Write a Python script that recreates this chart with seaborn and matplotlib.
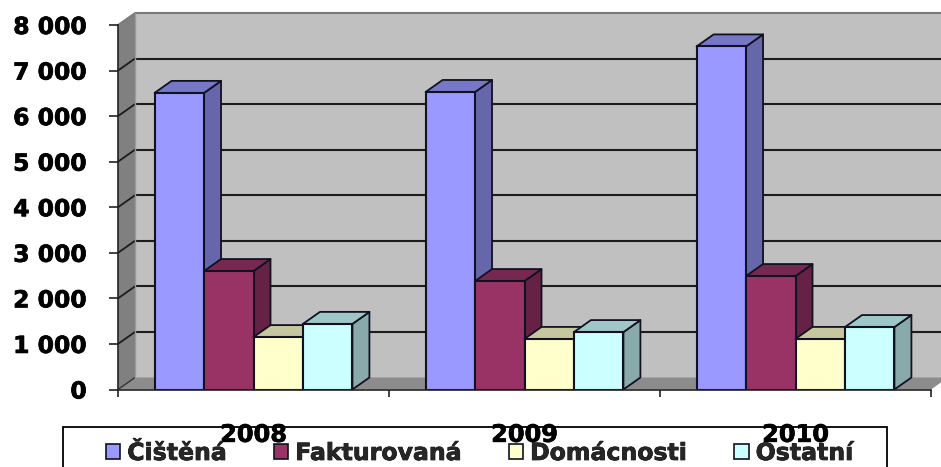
import matplotlib
matplotlib.use("Agg")
import matplotlib.pyplot as plt
import matplotlib.patheffects as pe
from matplotlib.patches import Polygon, Rectangle
from matplotlib.colors import to_rgb
import pandas as pd
import seaborn as sns

years = ["2008", "2009", "2010"]
series = ["Čištěná", "Fakturovaná", "Domácnosti", "Ostatní"]
cistena = [6510, 6530, 7530]
fakturovana = [2600, 2380, 2490]
domacnosti = [1150, 1110, 1110]
ostatni = [1440, 1260, 1370]
colors = ["#9999FF", "#993366", "#FFFFCC", "#CCFFFF"]
y_ticks = [0, 1000, 2000, 3000, 4000, 5000, 6000, 7000, 8000]
y_labels = ["0", "1 000", "2 000", "3 000", "4 000", "5 000", "6 000", "7 000", "8 000"]

W, H = 941, 467
sns.set_theme(style="white")
plt.rcParams["font.family"] = ["DejaVu Sans"]
plt.rcParams["font.weight"] = "bold"

df = pd.DataFrame({
    "Rok": years * 4,
    "Řada": [s for s in series for _ in years],
    "Hodnota": cistena + fakturovana + domacnosti + ostatni,
})

fig = plt.figure(figsize=(W / 100, H / 100), dpi=100, facecolor="white")
ax = fig.add_axes([118 / W, (H - 389.5) / H, (931 - 118) / W, (389.5 - 25) / H])
ax.patch.set_alpha(0)

sns.barplot(data=df, x="Rok", y="Hodnota", hue="Řada", hue_order=series, order=years,
            palette=colors, saturation=1, width=0.73, gap=0, edgecolor="#111122",
            linewidth=1.5, ax=ax)
ax.set_xlim(-0.5, 2.5)
ax.set_ylim(0, 8000)

# 3D depth expressed in data units
dx = 17 / 271
dy = 12 / (364.5 / 8000)


def poly(pts, fc, z, ec="none", lw=0.0):
    ax.add_patch(Polygon(pts, closed=True, facecolor=fc, edgecolor=ec, linewidth=lw,
                         zorder=z, clip_on=False, joinstyle="round"))


x0, x1 = ax.get_xlim()
y_top = y_ticks[-1]
# back wall, side wall, floor
poly([(x0 + dx, dy), (x1 + dx, dy), (x1 + dx, y_top + dy), (x0 + dx, y_top + dy)], "#C0C0C0", 0.1)
poly([(x0, 0), (x0 + dx, dy), (x0 + dx, y_top + dy), (x0, y_top)], "#808080", 0.1)
poly([(x0, 0), (x1, 0), (x1 + dx, dy), (x0 + dx, dy)], "#8C8C8C", 0.1)
for v in y_ticks[1:]:
    col = "#1c1c1c" if v < y_top else "#7a7a7a"
    ax.plot([x0 + dx, x1 + dx], [v + dy, v + dy], color=col, lw=1.5, zorder=0.2, clip_on=False,
            solid_capstyle="butt")
    ax.plot([x0, x0 + dx], [v, v + dy], color=col, lw=1.3, zorder=0.2, clip_on=False)
ax.plot([x0, x0 + dx], [0, dy], color="#333333", lw=1.0, zorder=0.2, clip_on=False)
ax.plot([x0 + dx, x0 + dx], [0 + dy, y_top + dy], color="#9a9a9a", lw=1.0, zorder=0.2, clip_on=False)

# side and top faces computed from seaborn's bars, painted left to right
bars = sorted([p for p in ax.patches if isinstance(p, Rectangle) and p.get_height() > 0],
              key=lambda p: p.get_x())
for i, b in enumerate(bars):
    z = 1 + i
    l, w, h = b.get_x(), b.get_width(), b.get_height()
    base = to_rgb(b.get_facecolor()[:3])
    side = tuple(c * 0.667 for c in base)
    top = tuple(c * 0.78 for c in base)
    poly([(l + w, 0), (l + w + dx, dy), (l + w + dx, h + dy), (l + w, h)], side, z, "#111122", 1.3)
    poly([(l, h), (l + w, h), (l + w + dx, h + dy), (l + dx, h + dy)], top, z, "#111122", 1.3)
    b.set_zorder(z + 0.5)

# axes furniture
sns.despine(ax=ax, top=True, right=True)
for s in ("left", "bottom"):
    ax.spines[s].set_color("#222222")
    ax.spines[s].set_linewidth(1.2)
    ax.spines[s].set_zorder(60)
ax.set_xlabel("")
ax.set_ylabel("")
ax.set_yticks(y_ticks)
ax.set_yticklabels(y_labels, fontsize=16.9, fontweight="bold", color="black")
ax.set_xticks([-0.5, 0.5, 1.5, 2.5])
ax.set_xticklabels([])
ax.set_xticks([0, 1, 2], minor=True)
ax.set_xticklabels(years, minor=True, fontsize=17.3, fontweight="bold", color="black")
ax.tick_params(axis="y", which="major", left=True, length=6.5, width=1.2, color="#222222", pad=16)
ax.tick_params(axis="x", which="major", bottom=True, length=5, width=1.2, color="#222222")
ax.tick_params(axis="x", which="minor", bottom=False, length=0, pad=24)

# legend frame runs past the bottom of the picture, as in the reference
fig.add_artist(Rectangle((63 / W, -0.05), (887 - 63) / W, (H - 427) / H + 0.05,
                         transform=fig.transFigure, facecolor="white", edgecolor="black",
                         linewidth=1.3, zorder=-1))
sns.move_legend(ax, loc="center left", bbox_to_anchor=(106 / W, (H - 453) / H),
                bbox_transform=fig.transFigure, ncol=4, frameon=False, title=None,
                borderpad=0, borderaxespad=0, handlelength=0.6, handleheight=0.6,
                handletextpad=0.3, columnspacing=2.0, prop={"weight": "bold", "size": 17})
leg = ax.get_legend()
leg.set_zorder(70)
for h in leg.legend_handles:
    h.set_edgecolor("#111122")
    h.set_linewidth(1.2)

heavy = [pe.withStroke(linewidth=0.5, foreground="black")]
for t in ax.get_yticklabels() + ax.get_xticklabels(minor=True) + leg.get_texts():
    t.set_path_effects(heavy)

fig.savefig("out.png", dpi=100, facecolor="white")
